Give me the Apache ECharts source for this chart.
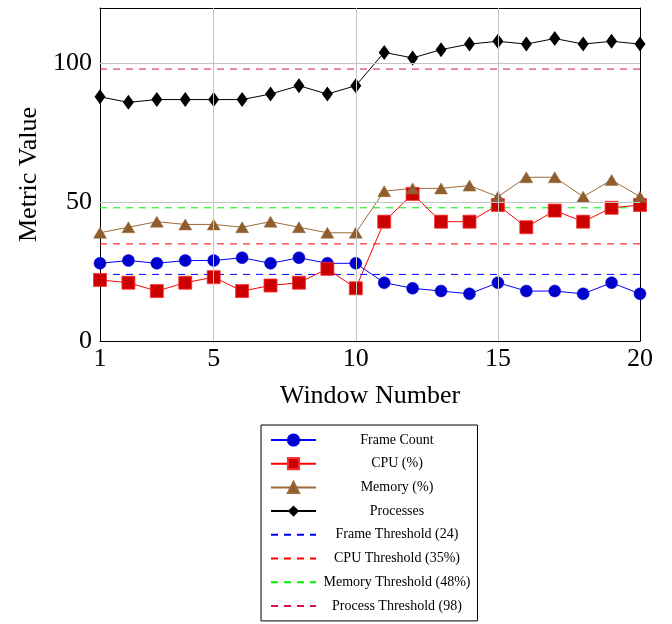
<!DOCTYPE html>
<html>
<head>
<meta charset="utf-8">
<script src="https://cdn.jsdelivr.net/npm/echarts@6/dist/echarts.min.js"></script>
<style>
  html, body { margin: 0; padding: 0; background: #fff; }
  #chart { width: 672px; height: 624px; }
</style>
</head>
<body>
<div id="chart"></div>
<script>
var windows = [1, 2, 3, 4, 5, 6, 7, 8, 9, 10, 11, 12, 13, 14, 15, 16, 17, 18, 19, 20];
var frameCount = [28, 29, 28, 29, 29, 30, 28, 30, 28, 28, 21, 19, 18, 17, 21, 18, 18, 17, 21, 17];
var cpu = [22, 21, 18, 21, 23, 18, 20, 21, 26, 19, 43, 53, 43, 43, 49, 41, 47, 43, 48, 49];
var memory = [39, 41, 43, 42, 42, 41, 43, 41, 39, 39, 54, 55, 55, 56, 52, 59, 59, 52, 58, 52];
var processes = [88, 86, 87, 87, 87, 87, 89, 92, 89, 92, 104, 102, 105, 107, 108, 107, 109, 107, 108, 107];
var thresholdNames = ['Frame Threshold (24)', 'CPU Threshold (35%)', 'Memory Threshold (48%)', 'Process Threshold (98)'];
var thresholdValues = [24, 35, 48, 98];
var thresholdColors = ['#0000ff', '#ff0000', '#00ee00', '#d4104c'];
var xTicks = [1, 5, 10, 15, 20];
var xGrid = [5, 10, 15];
var yGrid = [50, 100];

var serif = '"Liberation Serif", "DejaVu Serif", serif';

function pairs(ys) {
    return ys.map(function (y, i) { return [windows[i], y]; });
}

var chart = echarts.init(document.getElementById('chart'));

var series = [
    {
        name: 'gridlines',
        type: 'line',
        data: [],
        z: 1,
        silent: true,
        markLine: {
            silent: true,
            symbol: 'none',
            label: { show: false },
            lineStyle: { color: '#c4c4c4', width: 1, type: 'solid' },
            data: xGrid.map(function (v) { return { xAxis: v }; })
                .concat(yGrid.map(function (v) { return { yAxis: v }; }))
        }
    },
    {
        name: 'Frame Count',
        type: 'line',
        data: pairs(frameCount),
        symbol: 'circle',
        symbolSize: 12,
        lineStyle: { color: '#0000ff', width: 1 },
        itemStyle: { color: '#0000cc', borderColor: '#0000dd', borderWidth: 0.5 },
        z: 3
    },
    {
        name: 'CPU (%)',
        type: 'line',
        data: pairs(cpu),
        symbol: 'rect',
        symbolSize: 13,
        lineStyle: { color: '#ff0000', width: 1 },
        itemStyle: { color: '#cc0000', borderColor: '#ff3030', borderWidth: 0.8 },
        z: 3
    },
    {
        name: 'Memory (%)',
        type: 'line',
        data: pairs(memory),
        symbol: 'triangle',
        symbolSize: [13, 11],
        lineStyle: { color: '#9c6a3a', width: 1 },
        itemStyle: { color: '#8f5e2e', borderColor: '#9c6a3a', borderWidth: 0.5 },
        z: 3
    },
    {
        name: 'Processes',
        type: 'line',
        data: pairs(processes),
        symbol: 'diamond',
        symbolSize: [11, 15],
        lineStyle: { color: '#000000', width: 1 },
        itemStyle: { color: '#000000' },
        z: 3
    }
];

thresholdNames.forEach(function (name, i) {
    series.push({
        name: name,
        type: 'line',
        data: [[windows[0], thresholdValues[i]], [windows[windows.length - 1], thresholdValues[i]]],
        symbol: 'none',
        lineStyle: { color: thresholdColors[i], width: 1, type: [7, 6] },
        itemStyle: { color: thresholdColors[i] },
        z: 2
    });
});

var legendData = ['Frame Count', 'CPU (%)', 'Memory (%)', 'Processes'].concat(
    thresholdNames.map(function (name) {
        return { name: name, itemStyle: { opacity: 0 } };
    })
);

var option = {
    animation: false,
    backgroundColor: '#ffffff',
    textStyle: { fontFamily: serif },
    grid: { left: 100, top: 8, width: 540, height: 333, containLabel: false },
    xAxis: [
        {
            type: 'value',
            min: 1,
            max: 20,
            name: 'Window Number',
            nameLocation: 'middle',
            nameGap: 42,
            nameTextStyle: { fontFamily: serif, fontSize: 26, color: '#000' },
            axisLine: { show: true, lineStyle: { color: '#000', width: 1 } },
            axisTick: { show: true, inside: true, length: 5, customValues: xGrid, lineStyle: { color: '#888' } },
            axisLabel: { customValues: xTicks, fontFamily: serif, fontSize: 26, color: '#000', margin: 5 },
            splitLine: { show: false }
        },
        {
            type: 'value',
            min: 1,
            max: 20,
            position: 'top',
            axisLine: { show: true, onZero: false, lineStyle: { color: '#000', width: 1 } },
            axisTick: { show: false },
            axisLabel: { show: false },
            splitLine: { show: false }
        }
    ],
    yAxis: [
        {
            type: 'value',
            min: 0,
            max: 120,
            interval: 50,
            name: 'Metric Value',
            nameLocation: 'middle',
            nameGap: 58,
            nameTextStyle: { fontFamily: serif, fontSize: 26, color: '#000' },
            axisLine: { show: true, lineStyle: { color: '#000', width: 1 } },
            axisTick: { show: true, inside: true, length: 5, customValues: yGrid, lineStyle: { color: '#888' } },
            axisLabel: { showMaxLabel: false, fontFamily: serif, fontSize: 26, color: '#000', margin: 8 },
            splitLine: { show: false }
        },
        {
            type: 'value',
            min: 0,
            max: 120,
            position: 'right',
            axisLine: { show: true, onZero: false, lineStyle: { color: '#000', width: 1 } },
            axisTick: { show: false },
            axisLabel: { show: false },
            splitLine: { show: false }
        }
    ],
    legend: {
        orient: 'vertical',
        left: 261,
        top: 425,
        padding: [8, 7, 8, 9],
        itemWidth: 45,
        itemHeight: 14,
        itemGap: 9.7,
        borderColor: '#000',
        borderWidth: 1,
        backgroundColor: '#fff',
        selectedMode: false,
        data: legendData,
        formatter: function (name) { return '{t|' + name + '}'; },
        textStyle: {
            rich: {
                t: { width: 152, height: 14, align: 'center', fontFamily: serif, fontSize: 14, color: '#000' }
            }
        }
    },
    series: series
};

chart.setOption(option);
</script>
</body>
</html>
